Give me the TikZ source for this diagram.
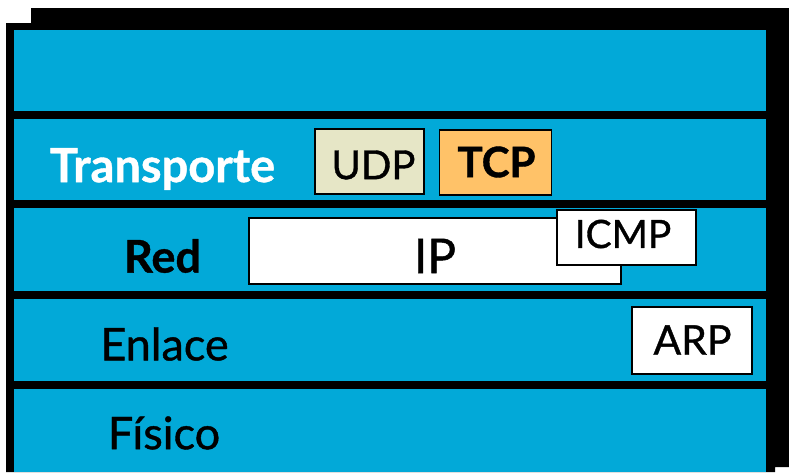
\documentclass[tikz,border=0pt]{standalone}
\usepackage{fontspec}
\setmainfont{Lato}
\newfontfamily\comicish{Lato}[RawFeature={embolden=0.9}]
\newfontfamily\comicbold{Lato Bold}[RawFeature={embolden=0.9}]
\definecolor{layerblue}{HTML}{02A9D8}
\definecolor{udpfill}{HTML}{E6E6C6}
\definecolor{tcpfill}{HTML}{FFC268}
\tikzset{
  box/.style={draw=black,line width=1.6pt,fill=white,inner sep=0pt,anchor=north west},
  lbl/.style={text=black,inner sep=0pt},
}
\begin{document}
\begin{tikzpicture}[x=1pt,y=-1pt]
\useasboundingbox (0,0) rectangle (789,472);
\fill[white] (0,0) rectangle (789,472);
% black frame
\fill[black] (6,472) -- (6,23) -- (31,23) -- (31,8) -- (789,8) -- (789,467) -- (775,467) -- (775,472) -- cycle;
\fill[layerblue] (14,30) rectangle (766,472);
% bars
\fill[black] (14,111) rectangle (766,119);
\fill[black] (14,200) rectangle (766,208);
\fill[black] (14,291) rectangle (766,299);
\fill[black] (14,381) rectangle (766,389);
% boxes
\node[box,fill=udpfill,minimum width=109pt,minimum height=65pt] (udpbox) at (314,128) {};
\node[box,fill=tcpfill,minimum width=112pt,minimum height=65pt] (tcpbox) at (438.7,129) {};
\node[box,minimum width=372pt,minimum height=66pt] (ipbox) at (248,217) {};
\node[box,minimum width=139pt,minimum height=55pt] (icmpbox) at (556,209) {};
\node[box,minimum width=120pt,minimum height=67pt] (arpbox) at (631,306) {};
% protocol labels
\node[lbl,font=\fontsize{40}{40}\selectfont\comicish] (udp) at (373.5,165) {UDP};
\node[lbl,font=\fontsize{42}{42}\selectfont\comicbold] (tcp) at (496.5,162) {TCP};
\node[lbl,font=\fontsize{48}{48}\selectfont\comicish] (ip) at (435,256) {IP};
\node[lbl,font=\fontsize{39}{39}\selectfont\comicish] (icmp) at (623,234) {ICMP};
\node[lbl,font=\fontsize{41}{41}\selectfont\comicish] (arp) at (692.5,340) {ARP};
% layer labels
\node[lbl,text=white,font=\fontsize{47}{47}\selectfont\comicbold] (transporte) at (162.5,169) {Transporte};
\node[lbl,font=\fontsize{45}{45}\selectfont\comicbold] (red) at (162.5,256) {Red};
\node[lbl,font=\fontsize{45}{45}\selectfont\comicish] (enlace) at (164.5,344) {Enlace};
\node[lbl,font=\fontsize{45}{45}\selectfont\comicish] (fisico) at (164,433) {Físico};
\end{tikzpicture}
\end{document}
